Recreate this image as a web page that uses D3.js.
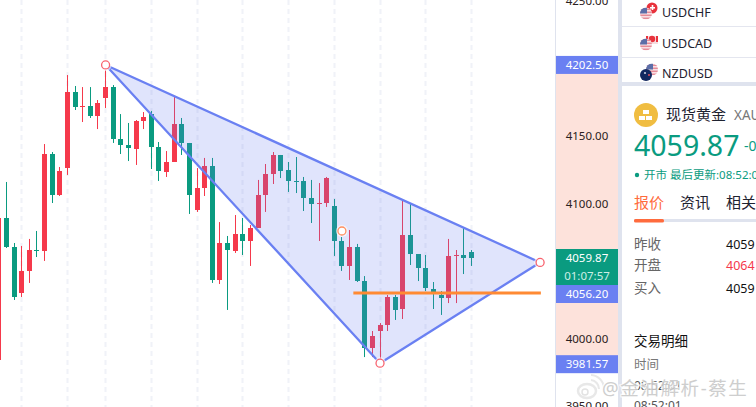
<!DOCTYPE html>
<html><head><meta charset="utf-8">
<script src="https://cdn.jsdelivr.net/npm/d3@7"></script>
<style>html,body{margin:0;padding:0;background:#fff;overflow:hidden}svg{display:block}
text{font-family:"Noto Sans","Noto Sans CJK SC",sans-serif}</style>
</head><body><svg id="c" width="756" height="407"></svg>
<script>
// index starts at -1 (the candle cut off by the left edge)
const opens=[3983.9,4089.1,4067.6,4033.6,4049.9,4065.4,4064.7,4136.5,4106.1,4126.1,4182.4,4171.3,4172.1,4164.7,4178.0,4186.1,4147.6,4143.2,4140.2,4161.0,4166.1,4141.7,4123.2,4130.6,4158.7,4144.7,4095.0,4111.3,4127.6,4043.2,4070.6,4064.7,4077.3,4072.1,4081.7,4106.1,4121.7,4135.8,4124.7,4116.5,4116.5,4103.9,4099.5,4100.2,4098.0,4072.1,4053.6,4067.6,4042.4,3992.8,4005.4,4009.9,4030.6,4021.7,4076.5,4062.4,4052.1,4036.5,4032.1,4029.9,4061.0,4061.7,4063.9];
const highs=[4089.1,4115.8,4070.6,4068.4,4073.6,4079.5,4143.9,4138.0,4126.9,4195.0,4186.9,4186.1,4186.1,4176.5,4198.7,4187.6,4166.1,4159.5,4161.7,4167.6,4168.4,4145.4,4138.7,4178.7,4163.2,4144.7,4126.1,4133.6,4133.6,4086.1,4075.8,4091.3,4089.1,4083.9,4117.3,4129.1,4138.0,4135.8,4130.6,4134.3,4119.5,4117.3,4115.0,4119.5,4103.2,4075.0,4080.2,4069.9,4046.1,4005.4,4011.3,4032.1,4032.1,4101.7,4099.5,4062.4,4061.7,4041.7,4035.0,4073.6,4065.4,4081.7,4065.4];
const lows=[3983.9,4066.9,4028.4,4030.6,4041.0,4060.2,4057.3,4100.2,4105.4,4121.0,4169.1,4160.2,4163.2,4155.0,4170.6,4144.7,4136.5,4131.3,4128.4,4155.0,4125.4,4116.5,4119.5,4130.6,4135.8,4092.1,4093.6,4105.4,4041.0,4040.2,4021.0,4063.2,4061.7,4053.6,4081.7,4093.6,4114.3,4118.7,4108.4,4107.6,4094.3,4085.4,4072.1,4097.3,4061.0,4049.9,4043.2,4041.7,3986.1,3986.1,3983.9,4005.4,4013.6,4014.3,4054.3,4042.4,4035.0,4021.7,4017.3,4026.1,4026.1,4047.6,4053.6];
const closes=[4089.1,4067.6,4030.6,4049.9,4065.4,4064.7,4136.5,4106.1,4123.9,4182.4,4171.3,4172.1,4164.7,4174.3,4186.1,4147.6,4143.2,4141.0,4161.0,4163.9,4141.7,4123.9,4130.6,4158.7,4144.7,4106.1,4111.3,4127.6,4043.2,4070.6,4065.4,4077.3,4072.1,4081.7,4106.1,4121.7,4135.8,4123.9,4116.5,4115.8,4103.9,4099.5,4100.2,4118.7,4072.1,4053.6,4067.6,4042.4,3992.8,4001.7,4009.9,4030.6,4021.0,4076.5,4062.4,4052.1,4037.3,4032.8,4029.9,4061.0,4061.7,4059.5,4059.5];
const gridIndex=[2,8,13,19,25,31,37,43,49,55,61];
const triangleIndex=[13,49,70];
const trianglePrice=[4202.5,3981.57,4056.2];
const markerIndex=[44];
const markerPrice=[4079.5];
const levelIndex=[45.5,70.1];
const levelPrice=4033.6;
const axisTicks=[4250,4150,4100,4000,3950];
const pairs=["USDCHF","USDCAD","NZDUSD"];
const quoteRows=[["昨收","4059",0],["开盘","4064",1],["买入","4059",0]];
const tabs=["报价","资讯","相关"];

const svg=d3.select("#c");
const x=d3.scaleLinear().domain([0,61]).range([6.5,471.5]);
const y=d3.scaleLinear().domain([4000,4100]).range([338.3,203.3]);
const RED="#f5394b",GREEN="#0a9b80",BLUE="#6a80f2",AX="#dfe3ee";
const sx=i=>Math.round(x(i)-.5)+.5;

const defs=svg.append("defs");
defs.append("clipPath").attr("id","plot").append("rect").attr("width",555).attr("height",407);
defs.append("clipPath").attr("id","side").append("rect").attr("x",622).attr("width",134).attr("height",407);
const plot=svg.append("g").attr("clip-path","url(#plot)");

plot.selectAll(".g").data(gridIndex).join("line").attr("x1",d=>sx(d)).attr("x2",d=>sx(d))
 .attr("y1",0).attr("y2",407).attr("stroke","#f0f2f8").attr("stroke-width",2).attr("stroke-dasharray","5 4");

const candles=opens.map((o,k)=>({i:k-1,o,h:highs[k],l:lows[k],c:closes[k]}));
const col=d=>d.c>=d.o?RED:GREEN;
const gc=plot.selectAll(".k").data(candles).join("g");
gc.append("line").attr("x1",d=>sx(d.i)).attr("x2",d=>sx(d.i)).attr("y1",d=>y(d.h)).attr("y2",d=>y(d.l)).attr("stroke",col).attr("stroke-width",1);
gc.append("rect").attr("x",d=>sx(d.i)-2.5).attr("width",5)
 .attr("y",d=>Math.round(y(Math.max(d.o,d.c))))
 .attr("height",d=>Math.max(1,Math.round(y(Math.min(d.o,d.c)))-Math.round(y(Math.max(d.o,d.c)))))
 .attr("fill",col);

const tri=triangleIndex.map((d,k)=>[x(d),y(trianglePrice[k])]);
plot.append("path").attr("d",d3.line()(tri)+"Z").attr("fill","rgba(98,120,240,.2)")
 .attr("stroke",BLUE).attr("stroke-width",2.3).attr("stroke-linejoin","round");
plot.append("line").attr("x1",x(levelIndex[0])).attr("x2",x(levelIndex[1])).attr("y1",y(levelPrice)).attr("y2",y(levelPrice))
 .attr("stroke","#ff8a33").attr("stroke-width",3);
plot.selectAll(".vh").data(tri).join("circle").attr("cx",d=>d[0]).attr("cy",d=>d[1]).attr("r",6).attr("fill","rgba(255,255,255,.6)");
plot.selectAll(".v").data(tri).join("circle").attr("cx",d=>d[0]).attr("cy",d=>d[1]).attr("r",4)
 .attr("fill","#fff").attr("stroke","#f8636f").attr("stroke-width",1.3);
plot.selectAll(".mh").data(markerIndex).join("circle").attr("cx",d=>x(d)).attr("cy",(d,k)=>y(markerPrice[k])).attr("r",6).attr("fill","rgba(255,255,255,.6)");
plot.selectAll(".m").data(markerIndex).join("circle").attr("cx",d=>x(d)).attr("cy",(d,k)=>y(markerPrice[k])).attr("r",4)
 .attr("fill","#fff").attr("stroke","#ff9060").attr("stroke-width",1.3);

// price axis
const ax=svg.append("g");
ax.append("rect").attr("x",555).attr("width",1).attr("height",407).attr("fill",AX);
ax.append("rect").attr("x",556).attr("y",y(4202.5)).attr("width",62).attr("height",y(3981.57)-y(4202.5)).attr("fill","#fde2db");
ax.selectAll(".t").data(axisTicks).join("text").attr("x",587).attr("y",d=>y(d)+.5).attr("dy",".36em")
 .attr("text-anchor","middle").attr("font-size",11.5).attr("fill","#2a2020").text(d=>d3.format(".2f")(d));
function tag(y0,h,fill,label,color){
 ax.append("rect").attr("x",556).attr("y",y0).attr("width",62).attr("height",h).attr("fill",fill);
 ax.append("text").attr("x",587).attr("y",y0+h/2).attr("dy",".36em").attr("text-anchor","middle").attr("font-size",11.5).attr("fill",color||"#fff").text(label);
}
tag(y(4202.5)-9,18,BLUE,d3.format(".2f")(4202.5));
tag(249,18,GREEN,"4059.87");
tag(267,18,GREEN,"01:07:57","#cdeee5");
tag(285,18,BLUE,d3.format(".2f")(4056.2));
tag(y(3981.57)-8,18,BLUE,d3.format(".2f")(3981.57));

// side panel
svg.append("rect").attr("x",618).attr("width",4).attr("height",407).attr("fill",AX);
const side=svg.append("g").attr("clip-path","url(#side)");
side.append("rect").attr("x",622).attr("y",82).attr("width",134).attr("height",4).attr("fill",AX);
[26,57].forEach(v=>side.append("rect").attr("x",622).attr("y",v).attr("width",134).attr("height",1).attr("fill","#e4e6ef"));
let fid=0;
function usFlag(cx,cy){
 const id="f"+(fid++);
 defs.append("clipPath").attr("id",id).append("circle").attr("cx",cx).attr("cy",cy).attr("r",6);
 const g=side.append("g").attr("clip-path",`url(#${id})`);
 g.append("rect").attr("x",cx-6).attr("y",cy-6).attr("width",12).attr("height",12).attr("fill","#fbe9ec");
 for(let s=0;s<4;s++)g.append("rect").attr("x",cx-6).attr("y",cy-5+s*3).attr("width",12).attr("height",1.6).attr("fill","#e58c98");
 g.append("rect").attr("x",cx-6).attr("y",cy-6).attr("width",7).attr("height",6).attr("fill","#5b6ea8");
}
const flagY=[12,43,73];
pairs.forEach((p,k)=>{
 const cy=flagY[k];
 if(k===0){
  side.append("circle").attr("cx",652).attr("cy",cy-4).attr("r",5.5).attr("fill","#e8323c");
  side.append("rect").attr("x",650).attr("y",cy-5).attr("width",5).attr("height",1.6).attr("fill","#fff");
  side.append("rect").attr("x",651.7).attr("y",cy-7).attr("width",1.6).attr("height",5).attr("fill","#fff");
  usFlag(646,cy+1.5);
 }else if(k===1){
  side.append("rect").attr("x",646).attr("y",cy-7).attr("width",12).attr("height",8).attr("fill","#f6dde0");
  side.append("circle").attr("cx",652).attr("cy",cy-4).attr("r",3.2).attr("fill","#e8323c");
  side.append("rect").attr("x",646).attr("y",cy-7).attr("width",2).attr("height",6).attr("fill","#e8323c");
  side.append("rect").attr("x",656).attr("y",cy-7).attr("width",2).attr("height",6).attr("fill","#e8323c");
  usFlag(646,cy+1.5);
 }else{
  usFlag(652,cy-3.5);
  side.append("circle").attr("cx",646).attr("cy",cy+2).attr("r",6).attr("fill","#12275f");
  side.append("circle").attr("cx",649).attr("cy",cy+2).attr("r",1).attr("fill","#e8505c");
  side.append("circle").attr("cx",645).attr("cy",cy).attr("r",1.1).attr("fill","#c9cde0");
 }
 side.append("text").attr("x",662).attr("y",cy).attr("dy",".36em").attr("font-size",12.5).attr("fill","#1e2230").text(p);
});
side.append("circle").attr("cx",646).attr("cy",115).attr("r",12).attr("fill","#f0bd41");
[[643,110],[639,116],[646,116]].forEach(b=>side.append("rect").attr("x",b[0]).attr("y",b[1]).attr("width",6).attr("height",4).attr("fill","#fff"));
side.append("text").attr("x",666).attr("y",115).attr("dy",".36em").attr("font-size",15).attr("fill","#1e2230").text("现货黄金");
side.append("text").attr("x",734).attr("y",115).attr("dy",".36em").attr("font-size",13.5).attr("fill","#777").text("XAU");
side.append("text").attr("x",634).attr("y",146).attr("dy",".36em").attr("font-size",28.5).attr("fill",GREEN).text("4059.87");
side.append("text").attr("x",744).attr("y",151).attr("font-size",14).attr("fill",GREEN).text("-0");
side.append("circle").attr("cx",637).attr("cy",175).attr("r",2.2).attr("fill",GREEN);
side.append("text").attr("x",644).attr("y",175).attr("dy",".36em").attr("font-size",11.5).attr("fill",GREEN).text("开市 最后更新:08:52:01");
tabs.forEach((t,k)=>side.append("text").attr("x",634+46*k).attr("y",203).attr("dy",".36em").attr("font-size",15).attr("fill",k?"#1e2230":"#ff6b3d").text(t));
side.append("rect").attr("x",634).attr("y",219).attr("width",122).attr("height",3).attr("fill",AX);
side.append("rect").attr("x",634).attr("y",219).attr("width",30).attr("height",3.5).attr("rx",1.5).attr("fill","#ff6b3d");
const rowY=[244,265,288];
quoteRows.forEach((r,k)=>{
 side.append("text").attr("x",634).attr("y",rowY[k]).attr("dy",".36em").attr("font-size",13.5).attr("fill","#666").text(r[0]);
 side.append("text").attr("x",726).attr("y",rowY[k]).attr("dy",".36em").attr("font-size",12.5).attr("fill",r[2]?"#f5394b":"#111").text(r[1]);
});
side.append("text").attr("x",634).attr("y",341).attr("dy",".36em").attr("font-size",13.5).attr("fill","#111").text("交易明细");
side.append("text").attr("x",634).attr("y",364).attr("dy",".36em").attr("font-size",12.5).attr("fill","#777").text("时间");
side.append("text").attr("x",634).attr("y",386).attr("dy",".36em").attr("font-size",12).attr("fill","#555").text("08:52:01");
side.append("text").attr("x",634).attr("y",406).attr("dy",".36em").attr("font-size",12).attr("fill","#555").text("08:52:01");

// watermark
const wm=svg.append("g").attr("opacity",.9);
wm.append("ellipse").attr("cx",587).attr("cy",391).attr("rx",9).attr("ry",7).attr("fill","none").attr("stroke","#e6e6e6").attr("stroke-width",2.5);
wm.append("circle").attr("cx",585).attr("cy",392).attr("r",3).attr("fill","none").attr("stroke","#e0e0e0").attr("stroke-width",1.5);
wm.append("path").attr("d","M591 380a9 9 0 0 1 8 9M591 375a14 14 0 0 1 13 13").attr("fill","none").attr("stroke","#e6e6e6").attr("stroke-width",2);
wm.append("text").attr("x",602).attr("y",388).attr("dy",".36em").attr("font-size",18.5).attr("letter-spacing","1.6").attr("fill","#c9c9c9")
 .attr("stroke","#fff").attr("stroke-width",2.5).attr("paint-order","stroke").attr("stroke-opacity",.85).text("@金油解析-蔡生");
</script></body></html>
